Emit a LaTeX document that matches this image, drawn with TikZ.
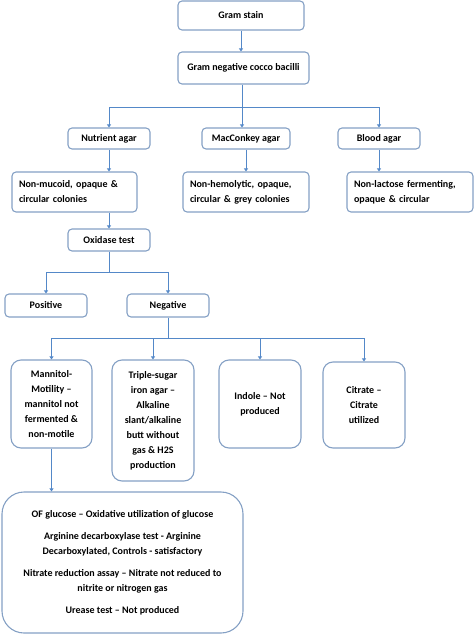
\documentclass[tikz,border=0pt]{standalone}
\usepackage{fontspec}
\setmainfont{Carlito}
\usepackage{tikz}
\usetikzlibrary{positioning, arrows.meta}

\definecolor{boxline}{RGB}{132,160,196}
\definecolor{linkline}{RGB}{84,136,200}

\tikzset{
  box/.style={draw=boxline, line width=1.1pt, rounded corners=4pt, align=center,
    inner sep=2pt, font=\fontsize{10}{15}\selectfont\bfseries},
  tallbox/.style={box, rounded corners=10pt},
  bigbox/.style={box, rounded corners=22pt},
  link/.style={draw=linkline, line width=0.9pt, -{Triangle[length=3pt,width=4pt]}},
  plain/.style={draw=linkline, line width=0.9pt}
}

\begin{document}
\begin{tikzpicture}[x=1pt, y=-1pt]
    \useasboundingbox (0,0) rectangle (474,634);

    % Top of the chart
    \node[box, minimum width=126pt, minimum height=29pt] (gram) at (241,15.5) {Gram stain};
    \node[box, minimum width=131pt, minimum height=32pt] (gneg) at (243.5,68) {Gram negative cocco bacilli};

    % Culture media
    \node[box, minimum width=82pt, minimum height=21pt] (nutr) at (109,138.5) {Nutrient agar};
    \node[box, minimum width=88pt, minimum height=21pt] (macc) at (246,138.5) {MacConkey agar};
    \node[box, minimum width=82pt, minimum height=21pt] (blood) at (379,138.5) {Blood agar};

    % Colony appearance
    \node[box, align=left, text width=111pt, inner sep=7pt, minimum height=40pt] (nonmuc) at (74.5,192)
      {Non-mucoid, opaque \&\\circular colonies};
    \node[box, align=left, text width=112pt, inner sep=7pt, minimum height=40pt] (nonhem) at (246,192)
      {Non-hemolytic, opaque,\\circular \& grey colonies};
    \node[box, align=left, text width=112pt, inner sep=7pt, minimum height=40pt] (nonlac) at (410,192)
      {Non-lactose fermenting,\\opaque \& circular};

    % Oxidase
    \node[box, minimum width=82pt, minimum height=22pt] (oxid) at (109,240) {Oxidase test};
    \node[box, minimum width=82pt, minimum height=23pt] (pos) at (46,305.5) {Positive};
    \node[box, minimum width=82pt, minimum height=23pt] (neg) at (168,305.5) {Negative};

    % Biochemical tests
    \node[tallbox, minimum width=81pt, minimum height=88pt] (mann) at (51.5,404)
      {Mannitol-\\Motility --\\mannitol not\\fermented \&\\non-motile};
    \node[tallbox, minimum width=82pt, minimum height=121pt] (tsi) at (153,420.5)
      {Triple-sugar\\iron agar --\\Alkaline\\slant/alkaline\\butt without\\gas \& H2S\\production};
    \node[tallbox, minimum width=82pt, minimum height=88pt] (indole) at (260,404)
      {Indole -- Not\\produced};
    \node[tallbox, minimum width=82pt, minimum height=86pt] (citr) at (364,405)
      {Citrate --\\Citrate\\utilized};

    \node[bigbox, minimum width=241pt, minimum height=141pt] (big) at (122.5,562.5)
      {OF glucose -- Oxidative utilization of glucose\\[7pt]
       Arginine decarboxylase test - Arginine\\Decarboxylated, Controls - satisfactory\\[7pt]
       Nitrate reduction assay -- Nitrate not reduced to\\nitrite or nitrogen gas\\[7pt]
       Urease test -- Not produced};

    % Connectors
    \coordinate (j1) at (242,107);
    \coordinate (j2) at (107,272);
    \coordinate (j3) at (170,338);

    \draw[link] (gram) -- (gram |- gneg.north);
    \draw[plain] (gneg.south -| j1) -- (j1);
    \foreach \n in {nutr, blood} {
      \draw[link] (j1) -| (\n.north);
    }
    \draw[link] (j1) -- (j1 |- macc.north);

    \draw[link] (nutr) -- (nonmuc.north -| nutr);
    \draw[link] (macc) -- (nonhem);
    \draw[link] (blood.south) -- (blood.south |- nonlac.north);
    \draw[link] (nonmuc.south -| oxid) -- (oxid);

    \draw[plain] (oxid) -- (j2 -| oxid);
    \foreach \n in {pos, neg} {
      \draw[link] (j2 -| oxid) -| (\n.north);
    }
    \draw[plain] (neg) -- (j3 -| neg);
    \foreach \n in {mann, tsi, indole, citr} {
      \draw[link] (j3 -| neg) -| (\n.north);
    }
    \draw[link] (mann) -- (big.north -| mann);
\end{tikzpicture}
\end{document}
